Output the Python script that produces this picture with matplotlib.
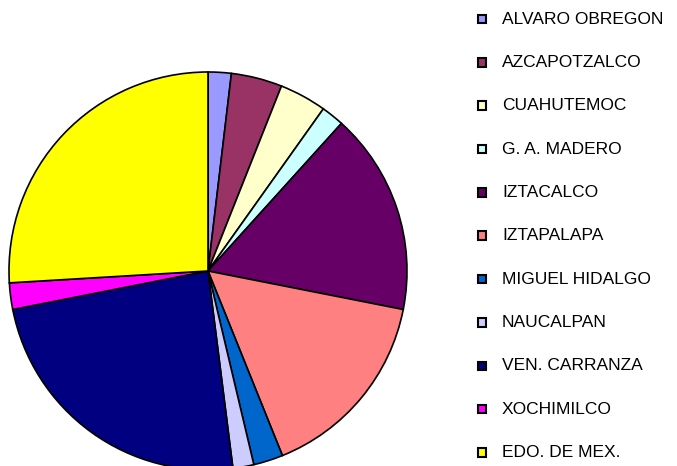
import matplotlib
matplotlib.use("Agg")
import matplotlib.pyplot as plt
from matplotlib.patches import Rectangle

labels = ["ALVARO OBREGON", "AZCAPOTZALCO", "CUAHUTEMOC", "G. A. MADERO",
          "IZTACALCO", "IZTAPALAPA", "MIGUEL HIDALGO", "NAUCALPAN",
          "VEN. CARRANZA", "XOCHIMILCO", "EDO. DE MEX."]
values = [1.88, 4.14, 3.82, 1.86, 16.4, 15.8, 2.4, 1.7, 23.9, 2.15, 25.95]
colors = ["#9999FF", "#993366", "#FFFFCC", "#CCFFFF", "#660066", "#FF8080",
          "#0066CC", "#CCCCFF", "#000080", "#FF00FF", "#FFFF00"]

W, H = 677, 466
fig = plt.figure(figsize=(W / 100, H / 100), dpi=100)
fig.patch.set_facecolor("white")

cx, cy, r = 208, 271, 199
ax = fig.add_axes([(cx - r) / W, (H - cy - r) / H, 2 * r / W, 2 * r / H])
ax.pie(values, colors=colors, startangle=90, counterclock=False,
       wedgeprops=dict(edgecolor="black", linewidth=1.2))
ax.set_xlim(-1, 1)
ax.set_ylim(-1, 1)
ax.set_aspect("equal")
ax.axis("off")

y0, dy = 19, 43.35
sq = 8.5
for i, (lab, col) in enumerate(zip(labels, colors)):
    y = y0 + i * dy
    fig.add_artist(Rectangle((477.5 / W, (H - y - sq / 2) / H), sq / W, sq / H,
                             facecolor=col, edgecolor="black", linewidth=1.5,
                             transform=fig.transFigure))
    fig.text(502 / W, (H - y) / H, lab, fontsize=12.5, family="Liberation Sans",
             va="center", ha="left", color="black")

fig.savefig("out.png", dpi=100)
